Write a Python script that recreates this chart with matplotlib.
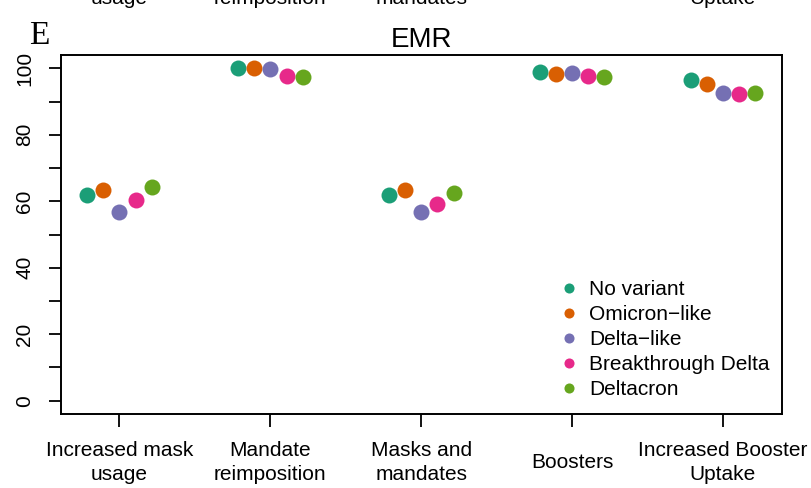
import numpy as np
import matplotlib
matplotlib.use("Agg")
import matplotlib.pyplot as plt

plt.rcParams["font.family"] = ["Liberation Sans", "DejaVu Sans"]

interventions = ["Increased mask\nusage", "Mandate\nreimposition", "Masks and\nmandates",
                 "Boosters", "Increased Booster\nUptake"]
variants = ["No variant", "Omicron\u2212like", "Delta\u2212like", "Breakthrough Delta", "Deltacron"]
colors = ["#1B9E77", "#D95F02", "#7570B3", "#E7298A", "#66A61E"]

# EMR (%) per intervention, one list per variant
no_variant = [62.0, 100.2, 62.0, 98.9, 96.5]
omicron_like = [63.3, 100.1, 63.3, 98.3, 95.4]
delta_like = [56.8, 99.8, 56.7, 98.5, 92.6]
breakthrough_delta = [60.4, 97.6, 59.1, 97.7, 92.3]
deltacron = [64.2, 97.4, 62.4, 97.5, 92.6]
series = [no_variant, omicron_like, delta_like, breakthrough_delta, deltacron]

W, H = 811, 488
fig = plt.figure(figsize=(W / 100, H / 100), dpi=100)
ax = fig.add_axes([0.0746, 0.1516, 0.8896, 0.7357])

x = np.arange(1, len(interventions) + 1)
step = 0.107
for j, (vals, col, lab) in enumerate(zip(series, colors, variants)):
    ax.plot(x + (j - 2) * step, vals, "o", ms=11.5, color=col, mec="none", label=lab)

ax.set_xlim(0.609, 5.391)
ax.set_ylim(-4, 104)
ax.set_xticks(x)
ax.set_xticklabels(interventions, fontsize=15, linespacing=1.3)
for lab in ax.get_xticklabels():
    lab.set_va("center")
ax.set_yticks(np.arange(0, 101, 10))
ax.set_yticklabels([str(v) if v % 20 == 0 else "" for v in range(0, 101, 10)],
                   fontsize=15, rotation=90, va="center")
ax.tick_params(axis="both", length=9, width=1.3, color="black")
ax.tick_params(axis="y", pad=10)
ax.tick_params(axis="x", pad=26)
for s in ax.spines.values():
    s.set_linewidth(1.4)

ax.set_title("EMR", fontsize=20, pad=6)
fig.text(29 / W, 1 - 44 / H, "E", fontsize=24, family="Liberation Serif", va="baseline")

# cut-off labels of the panel above
for xi, t in zip(x, ["usage", "reimposition", "mandates", "", "Uptake"]):
    xf = ax.transData.transform((xi, 0))[0] / fig.bbox.width
    fig.text(xf, 1 - 4 / H, t, fontsize=15, ha="center", va="baseline")

ax.legend(loc="upper left", bbox_to_anchor=(561 / W, 1 - 280 / H), bbox_transform=fig.transFigure,
          frameon=False, fontsize=15, handlelength=0.8, handletextpad=0.56,
          labelspacing=0.29, borderpad=0, borderaxespad=0, markerscale=0.63)

fig.savefig("out.png", dpi=100)
